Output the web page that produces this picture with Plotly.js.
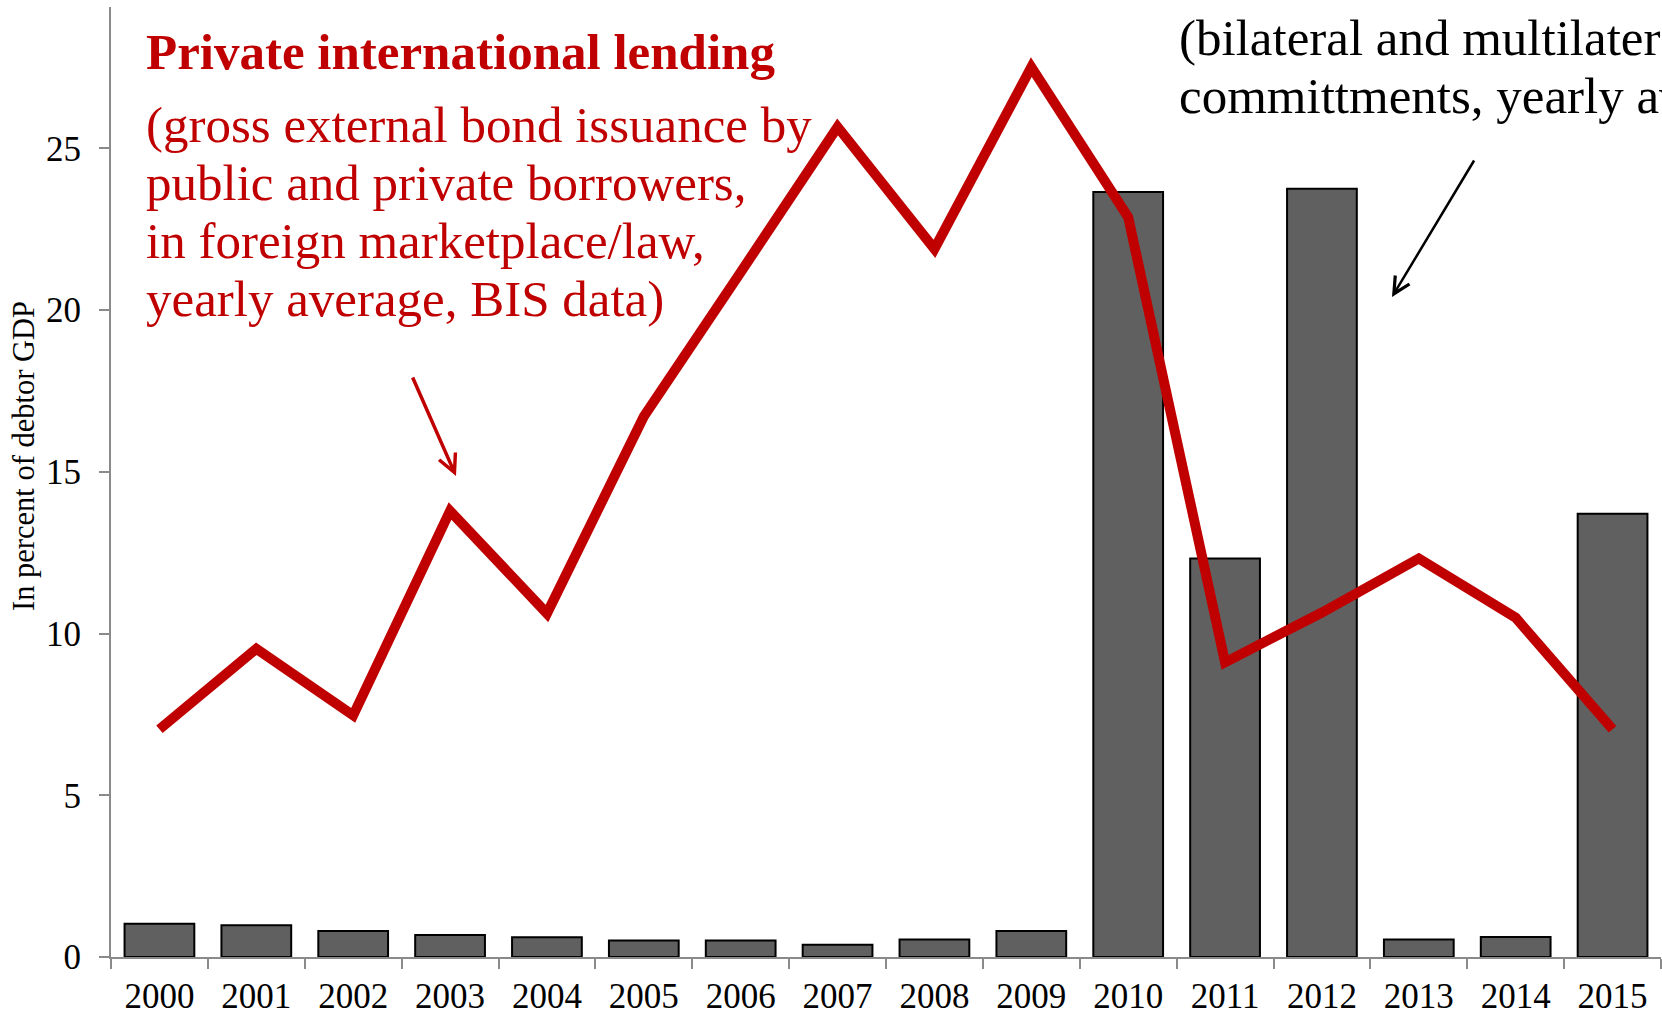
<!DOCTYPE html>
<html>
<head>
<meta charset="utf-8">
<script src="https://cdn.plot.ly/plotly-3.0.1.min.js"></script>
<style>
  html, body { margin: 0; padding: 0; overflow: hidden; background: #fff; }
  #chart { width: 1662px; height: 1015px; }
</style>
</head>
<body>
<div id="chart"></div>
<script>
// ---- data ----
const years = ["2000","2001","2002","2003","2004","2005","2006","2007","2008","2009","2010","2011","2012","2013","2014","2015"];
const officialLending = [1.03, 0.98, 0.80, 0.68, 0.61, 0.51, 0.51, 0.38, 0.54, 0.80, 23.65, 12.32, 23.75, 0.54, 0.62, 13.70];
const privateLending = [7.04, 9.53, 7.47, 13.79, 10.62, 16.71, 21.17, 25.66, 21.89, 27.51, 22.87, 9.11, 10.65, 12.32, 10.49, 7.04];
const yTicks = [0, 5, 10, 15, 20, 25];

const titleText = "Private international lending";
const privateNote = ["(gross external bond issuance by", "public and private borrowers,", "in foreign marketplace/law,", "yearly average, BIS data)"];
const officialNote = ["(bilateral and multilateral", "committments, yearly average)"];
const yTitle = "In percent of debtor GDP";

// ---- styles ----
const RED = "#c00000";
const FONT = "Liberation Serif, Times New Roman, serif";
const AXIS = "#8a8a8a";

// plot-area geometry in pixels (for placing annotations)
const W = 1662, H = 1015;
const M = {l: 111, r: 1, t: 7, b: 58};
const pw = W - M.l - M.r, ph = H - M.t - M.b;
const px = x => (x - M.l) / pw;
const py = y => (H - M.b - y) / ph;

const annotations = [];
const fs = 51;
const mid = baseline => baseline - 0.3375 * fs;

annotations.push({
  xref: "paper", yref: "paper", x: px(144), y: py(mid(69)),
  xanchor: "left", yanchor: "middle", showarrow: false,
  text: "<b>" + titleText + "</b>",
  font: {family: FONT, size: fs, color: RED}
});
const redBaselines = [142, 200, 258, 316];
privateNote.forEach((t, i) => annotations.push({
  xref: "paper", yref: "paper", x: px(144), y: py(mid(redBaselines[i])),
  xanchor: "left", yanchor: "middle", showarrow: false,
  text: t, font: {family: FONT, size: fs, color: RED}
}));
const blackBaselines = [55, 113];
officialNote.forEach((t, i) => annotations.push({
  xref: "paper", yref: "paper", x: px(1177), y: py(mid(blackBaselines[i])),
  xanchor: "left", yanchor: "middle", showarrow: false,
  text: t, font: {family: FONT, size: fs, color: "#000"}
}));
// y-axis title (placed as rotated text so it sits where the reference has it)
annotations.push({
  xref: "paper", yref: "paper", x: px(24), y: py(456),
  xanchor: "center", yanchor: "middle", showarrow: false, textangle: -90,
  text: yTitle, font: {family: FONT, size: 30.5, color: "#000"}
});
// arrows
annotations.push({
  xref: "paper", yref: "paper", x: px(456), y: py(476), ax: -44, ay: -100,
  text: "", showarrow: true, arrowhead: 5, arrowsize: 1.0, arrowwidth: 3.5, arrowcolor: RED
});
annotations.push({
  xref: "paper", yref: "paper", x: px(1392), y: py(297), ax: 83, ay: -138,
  text: "", showarrow: true, arrowhead: 5, arrowsize: 1.3, arrowwidth: 2.5, arrowcolor: "#000"
});

const traces = [
  {
    type: "bar", x: years, y: officialLending, name: "Official lending",
    marker: {color: "#606060", line: {color: "#000", width: 2}}
  },
  {
    type: "scatter", mode: "lines", x: years, y: privateLending, name: "Private lending",
    line: {color: RED, width: 10}
  }
];

const layout = {
  width: W, height: H,
  margin: M,
  paper_bgcolor: "#fff", plot_bgcolor: "#fff",
  showlegend: false,
  bargap: 0.28,
  font: {family: FONT, color: "#000"},
  xaxis: {
    type: "category",
    tickson: "boundaries",
    ticks: "outside", ticklen: 10, tickwidth: 2, tickcolor: AXIS,
    showline: true, linecolor: AXIS, linewidth: 2,
    showgrid: false, zeroline: false,
    tickfont: {family: FONT, size: 35, color: "#000"},
    ticklabelstandoff: 7,
    range: [-0.5, 15.5]
  },
  yaxis: {
    range: [0, 29.37],
    tickvals: yTicks, ticktext: yTicks.map(String),
    ticks: "outside", ticklen: 10, tickwidth: 2, tickcolor: AXIS,
    showline: true, linecolor: AXIS, linewidth: 2,
    showgrid: false, zeroline: false,
    tickfont: {family: FONT, size: 35, color: "#000"},
    ticklabelstandoff: 11
  },
  annotations: annotations
};

Plotly.newPlot("chart", traces, layout, {displayModeBar: false, staticPlot: true});
</script>
</body>
</html>
